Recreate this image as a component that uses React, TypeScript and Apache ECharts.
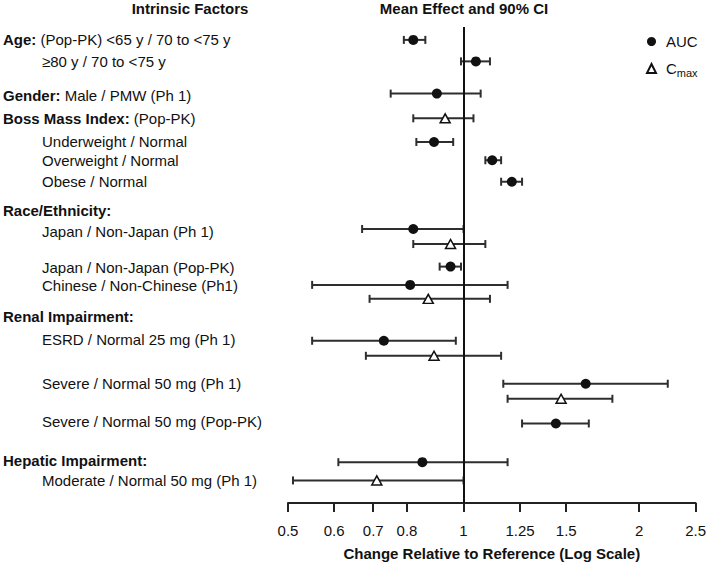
import React, { useEffect, useRef } from "react";
import * as echarts from "echarts";

// ---- Tick labels (x axis, log scale) ----
const xTicks = [0.5, 0.6, 0.7, 0.8, 1, 1.25, 1.5, 2, 2.5];
const xTickText = ["0.5", "0.6", "0.7", "0.8", "1", "1.25", "1.5", "2", "2.5"];

// ---- Row labels (left side) ----
// kind: h = bold group header (optionally followed by normal text), i = indented item
const labelKind = ["h", "i", "h", "h", "i", "i", "i", "h", "i", "i", "i", "h", "i", "i", "i", "h", "i"];
const labelBold = ["Age:", "", "Gender:", "Boss Mass Index:", "", "", "", "Race/Ethnicity:", "", "", "", "Renal Impairment:", "", "", "", "Hepatic Impairment:", ""];
const labelText = [
  "(Pop-PK) <65 y / 70 to <75 y",
  "≥80 y / 70 to <75 y",
  "Male / PMW (Ph 1)",
  "(Pop-PK)",
  "Underweight / Normal",
  "Overweight / Normal",
  "Obese / Normal",
  "",
  "Japan / Non-Japan (Ph 1)",
  "Japan / Non-Japan (Pop-PK)",
  "Chinese / Non-Chinese (Ph1)",
  "",
  "ESRD / Normal 25 mg (Ph 1)",
  "Severe / Normal 50 mg (Ph 1)",
  "Severe / Normal 50 mg (Pop-PK)",
  "",
  "Moderate / Normal 50 mg (Ph 1)",
];
const labelRow = [1.0, 2.0, 3.6, 4.65, 5.75, 6.6, 7.6, 8.92, 9.9, 11.6, 12.45, 13.88, 14.96, 16.97, 18.78, 20.57, 21.52];

// ---- AUC: geometric mean ratio and 90% CI ----
const aucRow = [1.0, 2.0, 3.5, 5.75, 6.6, 7.6, 9.8, 11.55, 12.4, 15.0, 17.0, 18.85, 20.65];
const aucMean = [0.82, 1.05, 0.9, 0.89, 1.12, 1.21, 0.82, 0.95, 0.81, 0.73, 1.62, 1.44, 0.85];
const aucLow = [0.79, 0.99, 0.75, 0.83, 1.09, 1.16, 0.67, 0.91, 0.55, 0.55, 1.17, 1.26, 0.61];
const aucHigh = [0.86, 1.11, 1.07, 0.96, 1.16, 1.26, 1.0, 0.99, 1.19, 0.97, 2.24, 1.64, 1.19];

// ---- Cmax: geometric mean ratio and 90% CI ----
const cmaxRow = [4.65, 10.5, 13.05, 15.7, 17.7, 21.5];
const cmaxMean = [0.93, 0.95, 0.87, 0.89, 1.47, 0.71];
const cmaxLow = [0.82, 0.82, 0.69, 0.68, 1.19, 0.51];
const cmaxHigh = [1.04, 1.09, 1.11, 1.16, 1.8, 1.0];

const FONT = "'Liberation Sans', Arial, Helvetica, sans-serif";
const INK = "#111";
const BAR = "#2e2e2e";

function fmtLabel(v: number): string {
  let best = 0;
  let d = Infinity;
  labelRow.forEach((r, i) => {
    const dd = Math.abs(r - v);
    if (dd < d) {
      d = dd;
      best = i;
    }
  });
  const parts: string[] = [];
  if (labelKind[best] === "i") parts.push("{ind| }");
  if (labelBold[best]) parts.push("{b|" + labelBold[best] + "}");
  if (labelText[best]) parts.push((labelBold[best] ? "{n| " : "{n|") + labelText[best] + "}");
  return parts.join("");
}

function fmtTick(v: number): string {
  let best = 0;
  let d = Infinity;
  xTicks.forEach((t, i) => {
    const dd = Math.abs(Math.log(t) - v);
    if (dd < d) {
      d = dd;
      best = i;
    }
  });
  return xTickText[best];
}

const renderBar = (params: any, api: any) => {
  const lo = api.coord([api.value(0), api.value(2)]);
  const hi = api.coord([api.value(1), api.value(2)]);
  const h = 4;
  const style = { stroke: BAR, lineWidth: 2, fill: null };
  return {
    type: "group",
    children: [
      { type: "line", shape: { x1: lo[0], y1: lo[1], x2: hi[0], y2: hi[1] }, style },
      { type: "line", shape: { x1: lo[0], y1: lo[1] - h, x2: lo[0], y2: lo[1] + h }, style },
      { type: "line", shape: { x1: hi[0], y1: hi[1] - h, x2: hi[0], y2: hi[1] + h }, style },
    ],
  };
};

export default function App() {
  const ref = useRef<HTMLDivElement>(null);
  useEffect(() => {
    if (!ref.current) return;
    const chart = echarts.init(ref.current, null, { renderer: "svg" });
    const option: any = {
      animation: false,
      textStyle: { fontFamily: FONT, color: INK },
      title: [
        {
          text: "Intrinsic Factors",
          left: 190,
          top: 1,
          padding: 0,
          textAlign: "center",
          textStyle: { fontFamily: FONT, fontSize: 15, fontWeight: "bold", color: INK },
        },
        {
          text: "Mean Effect and 90% CI",
          left: 464,
          top: 1,
          padding: 0,
          textAlign: "center",
          textStyle: { fontFamily: FONT, fontSize: 15, fontWeight: "bold", color: INK },
        },
      ],
      legend: {
        orient: "vertical",
        left: 646,
        top: 34,
        padding: 0,
        itemWidth: 9,
        itemHeight: 9,
        itemGap: 12,
        data: ["AUC", "Cmax"],
        formatter: (name: string) => (name === "Cmax" ? "{sp| }C{sub|max}" : "{sp| }" + name),
        textStyle: {
          fontFamily: FONT,
          fontSize: 15,
          color: INK,
          rich: {
            sp: { width: 5, fontSize: 15 },
            sub: { fontFamily: FONT, fontSize: 11, color: INK, padding: [9, 0, 0, 0] },
          },
        },
      },
      grid: { left: 288, right: 9, top: 27, bottom: 69, containLabel: false },
      xAxis: {
        type: "value",
        min: Math.log(0.5),
        max: Math.log(2.5),
        name: "Change Relative to Reference (Log Scale)",
        nameLocation: "middle",
        nameGap: 43,
        nameTextStyle: { fontFamily: FONT, fontSize: 15, fontWeight: "bold", color: INK },
        axisLine: { show: true, lineStyle: { color: "#222", width: 2 } },
        axisTick: {
          show: true,
          length: 9,
          customValues: xTicks.map((t) => Math.log(t)),
          lineStyle: { color: "#222", width: 2 },
        },
        axisLabel: {
          customValues: xTicks.map((t) => Math.log(t)),
          formatter: (v: number) => fmtTick(v),
          fontFamily: FONT,
          fontSize: 15,
          color: INK,
          margin: 20,
        },
        splitLine: { show: false },
      },
      yAxis: {
        type: "value",
        inverse: true,
        min: 0.4,
        max: 22.55,
        axisLine: { show: false },
        axisTick: { show: false },
        splitLine: { show: false },
        axisLabel: {
          customValues: labelRow,
          formatter: (v: number) => fmtLabel(v),
          align: "left",
          margin: 285,
          fontFamily: FONT,
          fontSize: 15,
          color: INK,
          rich: {
            ind: { width: 39, fontSize: 15, fontFamily: FONT },
            b: { fontWeight: "bold", fontSize: 15, fontFamily: FONT, color: INK },
            n: { fontSize: 15, fontFamily: FONT, color: INK },
          },
        },
      },
      series: [
        {
          name: "AUC CI",
          type: "custom",
          z: 1,
          renderItem: renderBar,
          encode: { x: [0, 1], y: 2 },
          data: aucRow.map((r, i) => [Math.log(aucLow[i]), Math.log(aucHigh[i]), r]),
          silent: true,
        },
        {
          name: "Cmax CI",
          type: "custom",
          z: 1,
          renderItem: renderBar,
          encode: { x: [0, 1], y: 2 },
          data: cmaxRow.map((r, i) => [Math.log(cmaxLow[i]), Math.log(cmaxHigh[i]), r]),
          silent: true,
        },
        {
          name: "AUC",
          type: "scatter",
          z: 3,
          symbol: "circle",
          symbolSize: 10,
          itemStyle: { color: INK, opacity: 1 },
          data: aucRow.map((r, i) => [Math.log(aucMean[i]), r]),
          markLine: {
            silent: true,
            symbol: "none",
            label: { show: false },
            lineStyle: { color: INK, width: 2, type: "solid" },
            data: [{ xAxis: Math.log(1) }],
          },
        },
        {
          name: "Cmax",
          type: "scatter",
          z: 4,
          symbol: "triangle",
          symbolSize: [10, 9],
          itemStyle: { color: "#fff", borderColor: INK, borderWidth: 1.5, opacity: 1 },
          data: cmaxRow.map((r, i) => [Math.log(cmaxMean[i]), r]),
        },
      ],
    };
    chart.setOption(option);
    return () => chart.dispose();
  }, []);
  return (
    <div
      ref={ref}
      style={{ position: "fixed", left: 0, top: 0, width: 709, height: 572, background: "#fff" }}
    />
  );
}
